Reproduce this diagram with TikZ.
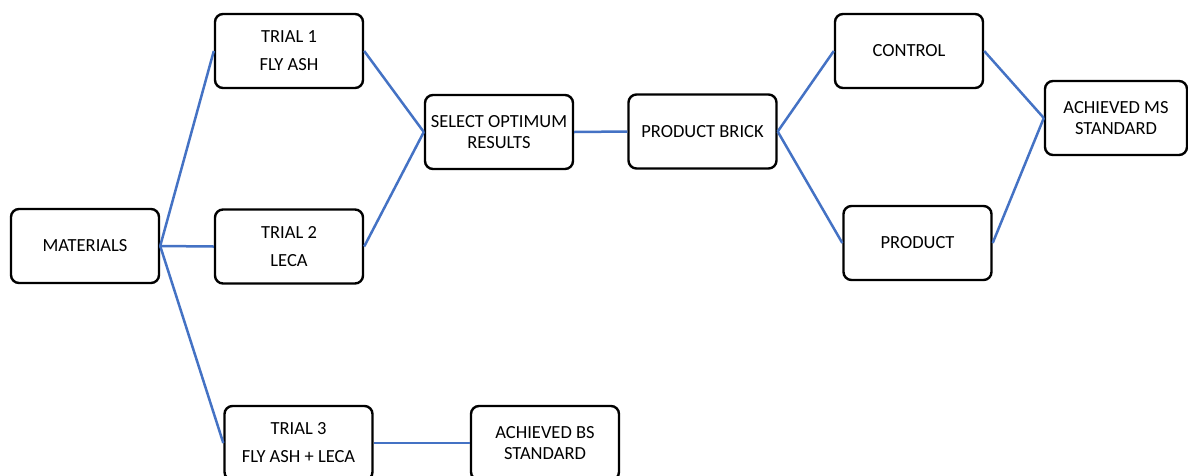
\documentclass[tikz,border=0pt]{standalone}
\usepackage{fontspec}
\setmainfont{Carlito}
\definecolor{linkblue}{RGB}{68,114,196}
\tikzset{
  stagebox/.style={draw=black, line width=2.4pt, rounded corners=8pt, fill=white,
    minimum width=148pt, minimum height=74pt, inner sep=0pt, align=center,
    font=\fontsize{18.5}{21}\selectfont},
  link/.style={draw=linkblue, line width=2.5pt}
}
\begin{document}
\begin{tikzpicture}[x=1pt, y=-1pt]
  \path[use as bounding box] (0,0) rectangle (1188,475);

  % material and trial stages
  \node[stagebox] (mat) at (85,246) {MATERIALS};
  \node[stagebox] (t1) at (289,51) {TRIAL 1\\[7pt]FLY ASH};
  \node[stagebox] (t2) at (289,246.5) {TRIAL 2\\[7pt]LECA};
  \node[stagebox] (t3) at (298.5,443) {TRIAL 3\\[7pt]FLY ASH + LECA};
  \node[stagebox] (bs) at (545,443) {ACHIEVED BS\\STANDARD};

  % selection and production
  \node[stagebox] (sel) at (499,132) {SELECT OPTIMUM\\RESULTS};
  \node[stagebox] (brick) at (702.5,131.5) {PRODUCT BRICK};
  \node[stagebox] (ctrl) at (909,51) {CONTROL};
  \node[stagebox] (prod) at (917.5,243) {PRODUCT};
  \node[stagebox, minimum width=142pt] (ms) at (1116,118) {ACHIEVED MS\\STANDARD};

  % connectors
  \draw[link] (mat.east) -- (t1.west);
  \draw[link] (mat.east) -- (t2.west);
  \draw[link] (mat.east) -- (t3.west);
  \draw[link] (t3.east) -- (bs.west);
  \draw[link] (t1.east) -- (sel.west);
  \draw[link] (t2.east) -- (sel.west);
  \draw[link] (sel.east) -- (brick.west);
  \draw[link] (brick.east) -- (ctrl.west);
  \draw[link] (brick.east) -- (prod.west);
  \draw[link] (ctrl.east) -- (ms.west);
  \draw[link] (prod.east) -- (ms.west);
\end{tikzpicture}
\end{document}
